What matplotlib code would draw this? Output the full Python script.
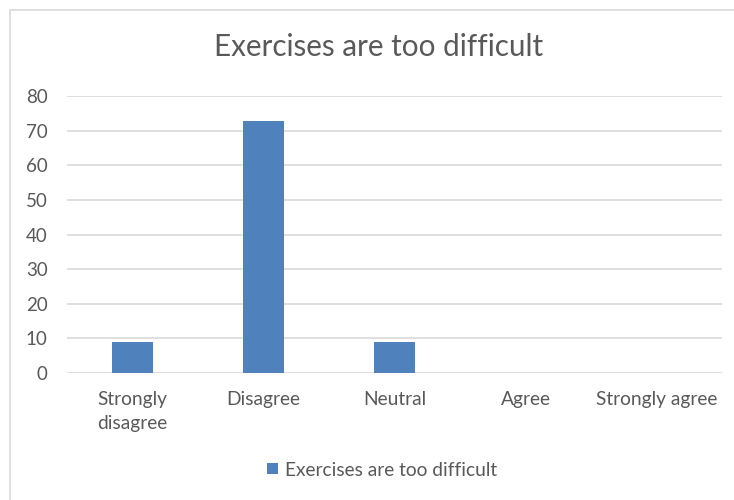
import matplotlib
matplotlib.use("Agg")
import matplotlib.pyplot as plt
from matplotlib.patches import Rectangle, Patch

categories = ["Strongly\ndisagree", "Disagree", "Neutral", "Agree", "Strongly agree"]
values = [9.09, 72.73, 9.09, 0, 0]
series_name = "Exercises are too difficult"
title = "Exercises are too difficult"
yticks = [0, 10, 20, 30, 40, 50, 60, 70, 80]

plt.rcParams['font.family'] = ['Lato', 'DejaVu Sans']
text_color = "#595959"
bar_color = "#4F81BD"
grid_color = "#D9D9D9"

W, H = 734, 500
fig = plt.figure(figsize=(W / 100, H / 100), dpi=100)
fig.patch.set_facecolor("white")

# chart area border
fig.add_artist(Rectangle((10 / W, -0.1), 1.2, 1 - 10 / H + 0.1, transform=fig.transFigure,
                         fill=False, edgecolor="#D9D9D9", linewidth=1.2, clip_on=False))

ax = fig.add_axes([67 / W, 1 - 373 / H, (722 - 67) / W, (373 - 96) / H])
x = list(range(len(categories)))
ax.bar(x, values, width=0.31, color=bar_color, zorder=3, label=series_name)
ax.set_xlim(-0.5, len(categories) - 0.5)
ax.set_ylim(0, 80)
ax.set_yticks(yticks)
ax.set_yticklabels([str(t) for t in yticks], fontsize=13.5, color=text_color)
ax.set_xticks(x)
ax.set_xticklabels(categories, fontsize=13.8, color=text_color, linespacing=1.5)
ax.tick_params(axis="both", length=0)
ax.tick_params(axis="y", pad=14)
ax.tick_params(axis="x", pad=13)
for s in ax.spines.values():
    s.set_visible(False)
ax.grid(axis="y", color=grid_color, linewidth=1.2, zorder=0)
ax.set_axisbelow(True)

fig.text(379 / W, 1 - 47 / H, title, ha="center", va="center", fontsize=21.3, color=text_color)

handles = [Patch(facecolor=bar_color, label=series_name)]
fig.legend(handles=handles, loc="center", bbox_to_anchor=(382 / W, 1 - 470 / H), frameon=False,
           fontsize=13.8, labelcolor=text_color, handlelength=0.55, handleheight=0.55, handletextpad=0.35)

fig.savefig("out.png", dpi=100)
